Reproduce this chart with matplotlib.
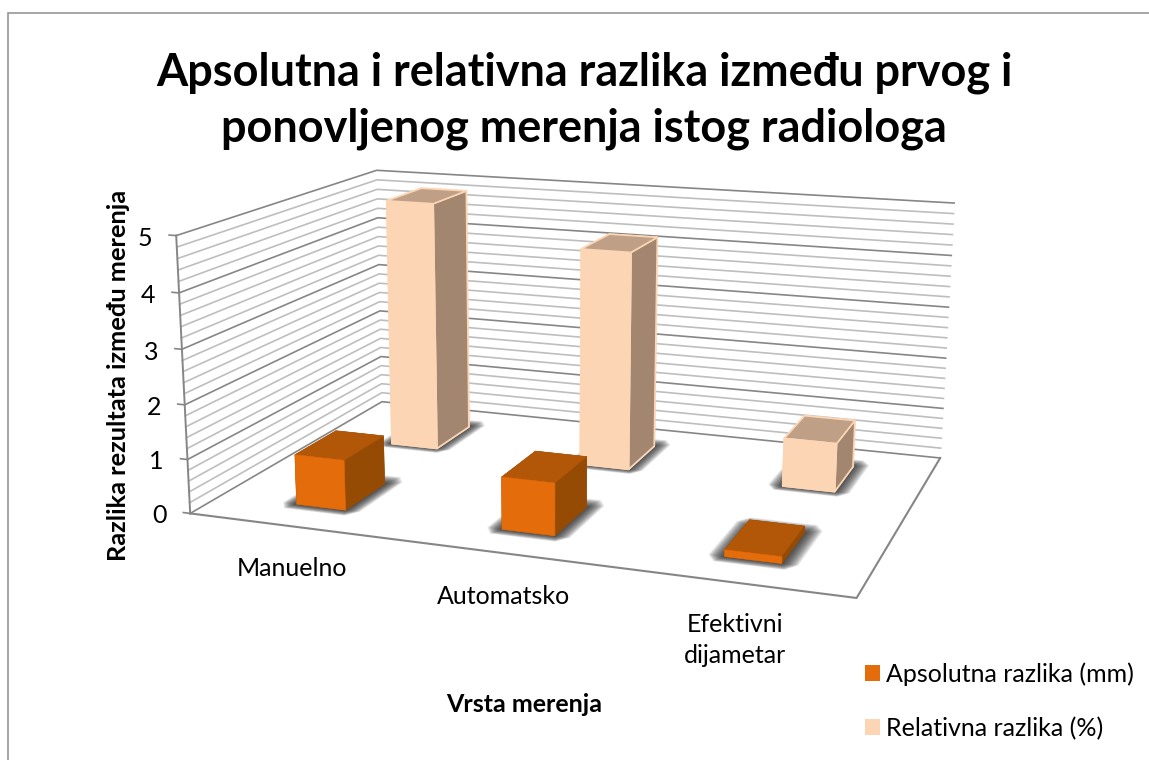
import numpy as np
import matplotlib
matplotlib.use('Agg')
import matplotlib.pyplot as plt
from matplotlib.patches import Patch, Rectangle
from mpl_toolkits.mplot3d.art3d import Poly3DCollection

W, H = 1149, 760

# data
categories = ['Manuelno', 'Automatsko', 'Efektivni\ndijametar']
series_names = ['Apsolutna razlika (mm)', 'Relativna razlika (%)']
apsolutna = [0.93, 0.95, 0.12]
relativna = [4.88, 4.2, 0.92]
yticks = [0, 1, 2, 3, 4, 5]
title = 'Apsolutna i relativna razlika između prvog i\nponovljenog merenja istog radiologa'
ylabel = 'Razlika rezultata između merenja'
xlabel = 'Vrsta merenja'

plt.rcParams['font.family'] = ['Lato', 'DejaVu Sans']

fig = plt.figure(figsize=(W / 100, H / 100), dpi=100, facecolor='white')
ax = fig.add_axes([0, 0, 1, 1], projection='3d')
ax.apply_aspect = lambda position=None: None
ax.set_axis_off()
ax.patch.set_visible(False)
ax.computed_zorder = False

# camera of the excel chart, fitted on the corners of the plot box
box_world = [(0, 0, 0), (0, 0, 5), (0, 2, 0), (0, 2, 5), (3, 2, 5), (3, 2, 0), (3, 0, 0)]
box_pixel = [(190, 513), (176, 236), (382, 402), (377, 170), (954, 203), (940, 458), (857, 598)]


def fit_camera():
    rows = []
    for (x, y, z), (px, py) in zip(box_world, box_pixel):
        u, v = px / W, (H - py) / H
        rows.append([x, y, z, 1, 0, 0, 0, 0, -u * x, -u * y, -u * z, -u])
        rows.append([0, 0, 0, 0, x, y, z, 1, -v * x, -v * y, -v * z, -v])
    p = np.linalg.svd(np.array(rows))[2][-1].reshape(3, 4)
    if p[2, 3] < 0:
        p = -p
    return p / p[2, 3]


P = fit_camera()


def get_proj():
    x0, x1 = ax.viewLim.intervalx
    y0, y1 = ax.viewLim.intervaly
    M = np.zeros((4, 4))
    M[0] = x0 * P[2] + (x1 - x0) * P[0]
    M[1] = y0 * P[2] + (y1 - y0) * P[1]
    # depth only sorts the faces, and has to stay negative or lines get clipped
    M[2] = np.array([-0.3, 1.0, -0.1, -1.0]) - 5 * P[2]
    M[3] = P[2]
    return M


ax.get_proj = get_proj

major = '#868686'
minor = '#BEBEBE'
nx, ny = len(categories), 2

# grid on left and back wall
for z in np.arange(0, 5.01, 0.2):
    is_major = abs(z - round(z)) < 1e-6
    ax.plot([0, 0, nx], [0, ny, ny], [z, z, z], color=major if is_major else minor,
            lw=1.2, zorder=1)
ax.plot([0, 0], [0, 0], [0, 5], color=major, lw=1.4, zorder=1)
ax.plot([0, nx, nx], [0, 0, ny], [0, 0, 0], color=major, lw=1.5, zorder=1)
for t in yticks:
    ax.plot([-0.035, 0], [0, 0], [t, t], color=major, lw=1.2, zorder=1)
    u, v, w = P @ [-0.12, 0, t, 1]
    fig.text(u / w, v / w - 5 / H, str(t), ha='right', va='center', fontsize=18, color='black')

# bars
bar_w = 0.245
bar_d = 0.41
bar_off = 0.385
series = [apsolutna, relativna]
face_colors = [
    ['#964B05', '#B25607', '#E46C0A', '#964B05', '#964B05', '#964B05'],
    ['#A3866F', '#BFA087', '#FCD5B5', '#A3866F', '#A3866F', '#A3866F'],
]
edge_colors = [face_colors[0], '#FCD5B5']
edge_widths = [0.4, 1.2]
y_starts = [0.28, 1.30]

# soft shadows
n_shadow = 20
for j, vals in enumerate(series):
    for i in range(nx):
        x0 = i + bar_off
        x1 = x0 + bar_w
        y0 = y_starts[j]
        y1 = y0 + bar_d
        polys = []
        for k in range(1, n_shadow + 1):
            t = k / n_shadow
            ex, ef, eb = 0.07 * t, 0.07 * t, 0.12 * t
            cx, cy = 0.6 * ex, 0.6 * eb
            polys.append([(x0 - ex + cx, y0 - ef, 0), (x1 + ex - cx, y0 - ef, 0),
                          (x1 + ex, y0 - ef + cy, 0), (x1 + ex, y1 + eb - cy, 0),
                          (x1 + ex - cx, y1 + eb, 0), (x0 - ex + cx, y1 + eb, 0),
                          (x0 - ex, y1 + eb - cy, 0), (x0 - ex, y0 - ef + cy, 0)])
        ax.add_collection3d(Poly3DCollection(polys, facecolors=(0.13, 0.13, 0.13, 0.07),
                                             edgecolors='none', zorder=2))

for j in [1, 0]:
    for i in range(nx):
        ax.bar3d(i + bar_off, y_starts[j], 0, bar_w, bar_d, series[j][i],
                 color=face_colors[j], shade=False, edgecolor=edge_colors[j],
                 linewidth=edge_widths[j], zorder=4 - j * 0.5 + i * 0.01)


def fx(px):
    return px / W


def fy(py):
    return 1 - py / H


# texts
fig.text(fx(584), fy(101), title, ha='center', va='center', fontsize=32.4, fontweight='bold',
         linespacing=1.39)
fig.text(fx(118), fy(375), ylabel, rotation=90, ha='center', va='center', fontsize=18.3,
         fontweight='bold')
fig.text(fx(524), fy(705), xlabel, ha='center', va='center', fontsize=18, fontweight='bold')
cat_pos = [(292, 568), (504, 596), (735, 640)]
for name, (px, py) in zip(categories, cat_pos):
    fig.text(fx(px), fy(py), name, ha='center', va='center', fontsize=18, linespacing=1.37)

# legend
handles = [Patch(facecolor='#E46C0A', edgecolor='none'), Patch(facecolor='#FCD5B5', edgecolor='none')]
fig.legend(handles, series_names, loc='center left', bbox_to_anchor=(fx(842), fy(701)),
           frameon=False, fontsize=18, handlelength=0.6, handleheight=0.6,
           handletextpad=0.28, labelspacing=1.25)

# outer frame
fig.add_artist(Rectangle((fx(7.5), fy(800)), 1.2, fy(12.5) - fy(800), transform=fig.transFigure,
                         fill=False, edgecolor='#969696', lw=1.2, clip_on=True))

fig.savefig('out.png', dpi=100)
